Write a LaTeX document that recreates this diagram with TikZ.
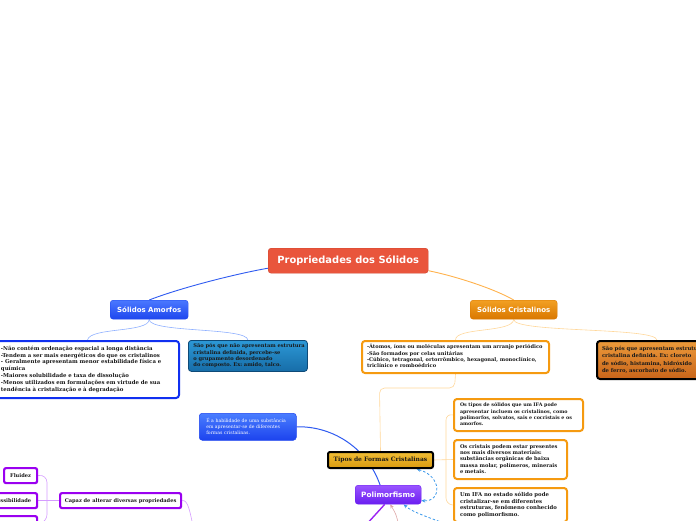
\documentclass[tikz,border=0pt]{standalone}
\usepackage{fontspec}
\setmainfont{DejaVu Serif}
\setsansfont{DejaVu Sans}
\usetikzlibrary{arrows.meta,backgrounds}
\frenchspacing
\definecolor{cenfill}{HTML}{E9553C}
\definecolor{cendraw}{HTML}{D0452F}
\definecolor{amotop}{HTML}{4A78FF}
\definecolor{amobot}{HTML}{1E46EE}
\definecolor{critop}{HTML}{F2A023}
\definecolor{cribot}{HTML}{D97700}
\definecolor{blueline}{HTML}{2F5BF0}
\definecolor{lightblue}{HTML}{8FB0FF}
\definecolor{orline}{HTML}{FFB24D}
\definecolor{lightor}{HTML}{FFD79A}
\definecolor{blueborder}{HTML}{1030F0}
\definecolor{tealtop}{HTML}{2C98D6}
\definecolor{tealbot}{HTML}{176DA8}
\definecolor{tealdraw}{HTML}{0E4A78}
\definecolor{orborder}{HTML}{F59A10}
\definecolor{dortop}{HTML}{EC9A3A}
\definecolor{dorbot}{HTML}{C8641A}
\definecolor{goldtop}{HTML}{F2BE34}
\definecolor{goldbot}{HTML}{D99A10}
\definecolor{poltop}{HTML}{9A55FF}
\definecolor{polbot}{HTML}{6A1EF0}
\definecolor{purpborder}{HTML}{9A00F0}
\definecolor{purpline}{HTML}{D59BFF}
\definecolor{purpthick}{HTML}{9B22F2}
\definecolor{dashblue}{HTML}{3A98EA}
\definecolor{pinkline}{HTML}{DDA6A6}
\definecolor{habtop}{HTML}{4A7EFF}
\definecolor{habbot}{HTML}{1C43EE}
\definecolor{txtdark}{HTML}{1A1A1A}
\newcommand{\mylines}[1]{\begin{tabular}{@{}l@{}}#1\end{tabular}}
\begin{document}
\frenchspacing
\begin{tikzpicture}[x=1pt,y=-1pt,
  topic/.style={rounded corners=3pt, font=\sffamily\bfseries, text=white, align=center, inner sep=0pt},
  txtbox/.style={rounded corners=3pt, text=txtdark, align=left, inner xsep=5pt, inner ysep=0pt, anchor=north west},
  smallbox/.style={rounded corners=2pt, font=\bfseries\fontsize{5.1}{6.2}\selectfont, text=txtdark, align=center, inner sep=0pt, fill=white, draw=purpborder, line width=2.2pt, anchor=north west},
  conn/.style={line width=0.9pt},
  thinc/.style={line width=0.6pt},
  dasharrow/.style={dashblue, line width=0.8pt, dash pattern=on 2.5pt off 2pt, -{Stealth[length=4pt,width=3.5pt]}}
]
\useasboundingbox (0,0) rectangle (696,520);
\clip (0,0) rectangle (696,520);

\node[topic, fill=cenfill, draw=cendraw, minimum width=160pt, minimum height=25pt, font=\sffamily\bfseries\fontsize{9.9}{11}\selectfont, anchor=north west] (cen) at (268,248) {Propriedades dos Sólidos};
\node[topic, top color=amotop, bottom color=amobot, draw=amobot, minimum width=78pt, minimum height=19pt, font=\sffamily\bfseries\fontsize{7}{8}\selectfont, anchor=north west] (amo) at (110,300) {Sólidos Amorfos};
\node[topic, top color=critop, bottom color=cribot, draw=cribot, minimum width=87pt, minimum height=19pt, font=\sffamily\bfseries\fontsize{7}{8}\selectfont, anchor=north west] (cri) at (470,300) {Sólidos Cristalinos};

\node[txtbox, fill=white, draw=blueborder, line width=2pt, minimum width=183pt, minimum height=57pt, text width=173pt, font=\bfseries\fontsize{5.4}{6.9}\selectfont] (aL) at (-5,340) {\mylines{-Não contém ordenação espacial a longa distância\\-Tendem a ser mais energéticos do que os cristalinos\\- Geralmente apresentam menor estabilidade física e\\química\\-Maiores solubilidade e taxa de dissolução\\-Menos utilizados em formulações em virtude de sua\\tendência à cristalização e à degradação}};
\node[txtbox, top color=tealtop, bottom color=tealbot, draw=tealdraw, line width=0.8pt, minimum width=119pt, minimum height=31pt, text width=109pt, font=\bfseries\fontsize{5.15}{6.3}\selectfont] (aR) at (188,340) {\mylines{São pós que não apresentam estrutura\\cristalina definida, percebe-se\\o grupamento desordenado\\do composto. Ex: amido, talco.}};

\node[txtbox, fill=white, draw=orborder, line width=2pt, minimum width=187pt, minimum height=32pt, text width=177pt, font=\bfseries\fontsize{5.1}{6.3}\selectfont] (cL) at (361,340) {\mylines{-Átomos, íons ou moléculas apresentam um arranjo periódico\\-São formados por celas unitárias\\-Cúbico, tetragonal, ortorrômbico, hexagonal, monoclínico,\\triclínico e romboédrico}};
\node[txtbox, top color=dortop, bottom color=dorbot, draw=black, line width=2pt, minimum width=120pt, minimum height=38pt, text width=110pt, font=\bfseries\fontsize{5.3}{7.2}\selectfont] (cR) at (596,340) {\mylines{São pós que apresentam estrutura\\cristalina definida. Ex: cloreto\\de sódio, histamina, hidróxido\\de ferro, ascorbato de sódio.}};

\node[txtbox, fill=white, draw=orborder, line width=2pt, minimum width=129pt, minimum height=32pt, text width=117pt, font=\bfseries\fontsize{4.8}{6.3}\selectfont, inner xsep=6pt] (b1) at (453,398) {\mylines{Os tipos de sólidos que um IFA pode\\apresentar incluem os cristalinos, como\\polimorfos, solvatos, sais e cocristais e os\\amorfos.}};
\node[txtbox, fill=white, draw=orborder, line width=2pt, minimum width=113pt, minimum height=39pt, text width=101pt, font=\bfseries\fontsize{5.15}{6.3}\selectfont, inner xsep=6pt] (b2) at (453,439) {\mylines{Os cristais podem estar presentes\\nos mais diversos materiais:\\substâncias orgânicas de baixa\\massa molar, polímeros, minerais\\e metais.}};
\node[txtbox, fill=white, draw=orborder, line width=2pt, minimum width=113pt, minimum height=34pt, text width=101pt, font=\bfseries\fontsize{5.35}{6.6}\selectfont, inner xsep=6pt] (b3) at (453,487) {\mylines{Um IFA no estado sólido pode\\cristalizar-se em diferentes\\estruturas, fenômeno conhecido\\como polimorfismo.}};

\node[txtbox, top color=habtop, bottom color=habbot, draw=habbot, line width=0.5pt, minimum width=97pt, minimum height=27pt, text width=83pt, text=white, font=\fontsize{4.65}{6}\selectfont, inner xsep=7pt] (hab) at (199,413) {\mylines{É a habilidade de uma substância\\em apresentar-se de diferentes\\formas cristalinas.}};

\node[topic, top color=goldtop, bottom color=goldbot, draw=black, line width=2pt, minimum width=105pt, minimum height=16pt, text=txtdark, font=\bfseries\fontsize{6}{7}\selectfont, anchor=north west, rounded corners=2pt] (tip) at (327,451) {Tipos de Formas Cristalinas};

\node[topic, top color=poltop, bottom color=polbot, draw=polbot, minimum width=66pt, minimum height=19pt, font=\sffamily\bfseries\fontsize{7.3}{8}\selectfont, anchor=north west] (pol) at (355,485) {Polimorfismo};

\node[smallbox, minimum width=33pt, minimum height=15pt] (flu) at (3,467) {Fluidez};
\node[smallbox, minimum width=65pt, minimum height=15pt] (com) at (-29,492) {Compressibilidade};
\node[smallbox, minimum width=61pt, minimum height=15pt] (third) at (-25,515) {};
\node[smallbox, minimum width=121pt, minimum height=15pt] (cap) at (59,492) {Capaz de alterar diversas propriedades};

\coordinate (offB) at (452,526);
\coordinate (offP) at (399,526);
\coordinate (offV) at (365,526);
\coordinate (offC) at (193,526);

\begin{scope}[on background layer]
  \draw[conn, blueline] (cen.west) ++(0,7.5) coordinate (cw) (cw) .. controls (235,274) and (180,288) .. (amo.north);
  \draw[conn, orline] (cen.east) ++(0,10) coordinate (ce) (ce) .. controls (455,276) and (495,289) .. (cri.north);
  \draw[thinc, lightblue] (amo.south) .. controls (149,333) and (90,327) .. (aL.north);
  \draw[thinc, lightblue] (amo.south) .. controls (149,333) and (247,327) .. (aR.north);
  \draw[thinc, lightor] (cri.south) .. controls (513,333) and (455,327) .. (cL.north);
  \draw[thinc, lightor] (cri.south) .. controls (513,333) and (656,327) .. (cR.north);
  \draw[thinc, lightor, rounded corners=5pt] (cL.south) -- (454.5,388) -- (379.5,388) -- (tip.north);
  \draw[thinc, lightor] (tip.east) -- (b2.west);
  \draw[thinc, lightor, rounded corners=6pt] (b1.west) -- (446,414) -- (446,504) -- (b3.west);
  \draw[conn, blueline, line width=1pt] (hab.east) .. controls (335,426) and (368,450) .. (pol.130);
  \draw[line width=1.4pt, purpthick] (pol.-110) -- (offV);
  \draw[thinc, pinkline, -{Stealth[length=4pt,width=3.5pt]}] (offP) .. controls (396,514) .. (pol.-78);
  \draw[dasharrow, {Stealth[length=4pt,width=3.5pt]}-{Stealth[length=4pt,width=3.5pt]}] (tip.-14) .. controls (442,476) and (442,502) .. (pol.-10);
  \draw[dasharrow] (offB) .. controls (430,518) and (412,512) .. (pol.-32);
  \draw[thinc, purpline] (com.east) -- (cap.west);
  \draw[thinc, purpline, rounded corners=8pt] (flu.east) -- (47,474.5) -- (47,522.5) -- (third.east);
  \draw[thinc, purpline] (cap.east) .. controls (188,499.5) and (190,512) .. (offC);
\end{scope}
\end{tikzpicture}
\end{document}
